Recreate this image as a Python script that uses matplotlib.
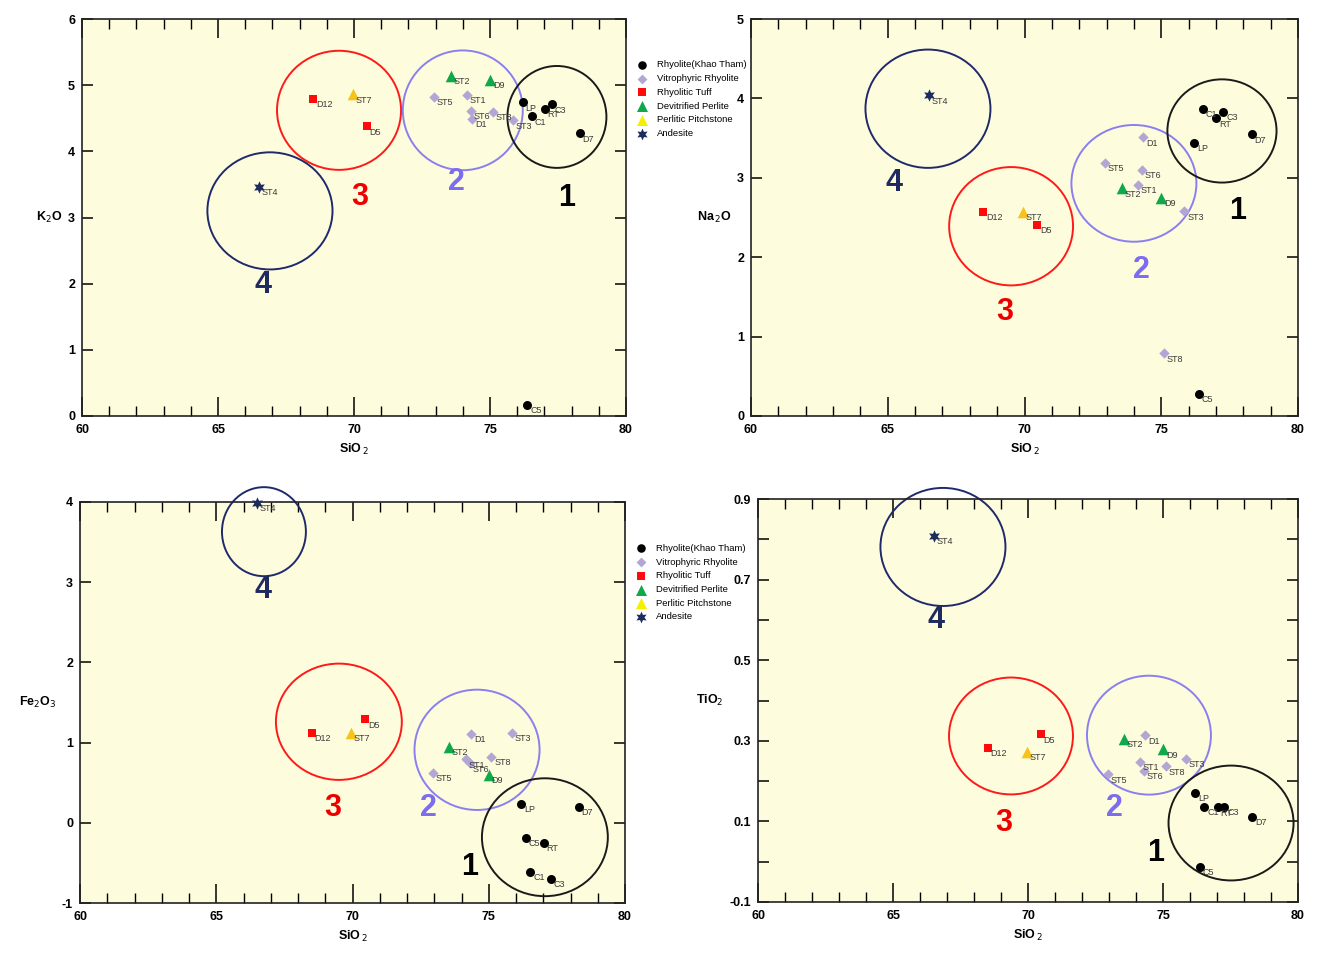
import matplotlib
matplotlib.use("Agg")
import matplotlib.pyplot as plt
from matplotlib.patches import Ellipse
from matplotlib.ticker import MultipleLocator, FixedLocator, FuncFormatter
import numpy as np

plt.rcParams['font.family'] = ['Liberation Sans', 'DejaVu Sans']
plt.rcParams['axes.unicode_minus'] = False

# ---------------- data ----------------
samples = ['LP', 'C5', 'C1', 'RT', 'C3', 'D7',
           'ST5', 'ST1', 'ST6', 'D1', 'ST8', 'ST3',
           'D12', 'D5',
           'ST2', 'D9',
           'ST7',
           'ST4']
groups = ['Rhyolite(Khao Tham)'] * 6 + ['Vitrophyric Rhyolite'] * 6 + \
         ['Rhyolitic Tuff'] * 2 + ['Devitrified Perlite'] * 2 + \
         ['Perlitic Pitchstone'] + ['Andesite']
sio2 = [76.2, 76.37, 76.53, 77.02, 77.27, 78.3,
        72.95, 74.15, 74.3, 74.35, 75.1, 75.85,
        68.5, 70.47,
        73.55, 75.0,
        69.95,
        66.5]
k2o = [4.74, 0.17, 4.53, 4.64, 4.71, 4.27,
       4.82, 4.85, 4.61, 4.49, 4.6, 4.47,
       4.79, 4.38,
       5.14, 5.08,
       4.86,
       3.46]
na2o = [3.44, 0.28, 3.87, 3.75, 3.83, 3.55,
        3.19, 2.91, 3.1, 3.51, 0.79, 2.58,
        2.57, 2.41,
        2.87, 2.75,
        2.57,
        4.04]
fe2o3 = [0.24, -0.19, -0.61, -0.25, -0.70, 0.20,
         0.62, 0.79, 0.74, 1.11, 0.82, 1.12,
         1.12, 1.29,
         0.95, 0.60,
         1.12,
         3.99]
tio2 = [0.171, -0.012, 0.136, 0.135, 0.136, 0.112,
        0.217, 0.248, 0.226, 0.314, 0.237, 0.255,
        0.283, 0.316,
        0.305, 0.279,
        0.273,
        0.808]

group_order = ['Rhyolite(Khao Tham)', 'Vitrophyric Rhyolite', 'Rhyolitic Tuff',
               'Devitrified Perlite', 'Perlitic Pitchstone', 'Andesite']
group_style = {
    'Rhyolite(Khao Tham)': dict(marker='o', color='#000000', s=42),
    'Vitrophyric Rhyolite': dict(marker='D', color='#b3a6d4', s=28),
    'Rhyolitic Tuff': dict(marker='s', color='#ff0a0a', s=40),
    'Devitrified Perlite': dict(marker='^', color='#0fa84a', s=70),
    'Perlitic Pitchstone': dict(marker='^', color='#f7c21a', s=70),
    'Andesite': dict(marker=(6, 1, 0), color='#1c2c5c', s=80),
}
legend_colors = {'Perlitic Pitchstone': '#f5f000'}

# circle groups: (label, x-center, y-center, width, height, text-x, text-y)
circle_colors = {'1': '#1a1a1a', '2': '#8b7ff0', '3': '#ff1a1a', '4': '#1f2a6c'}
text_colors = {'1': '#000000', '2': '#7c6cf0', '3': '#ee0000', '4': '#1f2a5e'}

circles_k2o = [('3', 69.45, 4.62, 4.56, 1.80, 70.22, 3.31),
               ('2', 74.0, 4.62, 4.41, 1.81, 73.75, 3.53),
               ('1', 77.46, 4.52, 3.64, 1.54, 77.8, 3.29),
               ('4', 66.91, 3.10, 4.60, 1.77, 66.65, 1.98)]
circles_na2o = [('4', 66.47, 3.87, 4.57, 1.49, 65.23, 2.93),
                ('3', 69.51, 2.39, 4.53, 1.49, 69.29, 1.31),
                ('2', 74.0, 2.93, 4.57, 1.47, 74.26, 1.84),
                ('1', 77.22, 3.59, 3.99, 1.30, 77.8, 2.58)]
circles_fe2o3 = [('4', 66.75, 3.63, 3.08, 1.11, 66.72, 2.90),
                 ('3', 69.5, 1.26, 4.62, 1.45, 69.28, 0.18),
                 ('2', 74.57, 0.91, 4.59, 1.50, 72.77, 0.18),
                 ('1', 77.06, -0.18, 4.62, 1.47, 74.31, -0.55)]
circles_tio2 = [('4', 66.85, 0.781, 4.63, 0.293, 66.59, 0.60),
                ('3', 69.37, 0.312, 4.59, 0.290, 69.11, 0.096),
                ('2', 74.48, 0.314, 4.59, 0.295, 73.19, 0.133),
                ('1', 77.52, 0.096, 4.63, 0.285, 74.74, 0.022)]

W, H = 1317, 956
fig = plt.figure(figsize=(W / 100, H / 100), dpi=100)
bg = '#fdfcdc'


def px_axes(l, r, t, b):
    return fig.add_axes([l / W, 1 - b / H, (r - l) / W, (b - t) / H])


def draw_panel(ax, yvals, ylabel, ylim, yticks, circles, legend=False, ylabels=None):
    ax.set_facecolor(bg)
    for g in group_order:
        idx = [i for i, gg in enumerate(groups) if gg == g]
        st = group_style[g]
        ax.scatter([sio2[i] for i in idx], [yvals[i] for i in idx],
                   marker=st['marker'], c=st['color'], s=st['s'],
                   linewidths=0, zorder=3, clip_on=False)
        # legend proxy
        ax.scatter([], [], marker=st['marker'], c=legend_colors.get(g, st['color']),
                   s=st['s'] * 0.9, linewidths=0, label=g)
    for i, name in enumerate(samples):
        ax.annotate(name, (sio2[i], yvals[i]), xytext=(2, -1), textcoords='offset points',
                    ha='left', va='top', fontsize=6.5, color='#3a3a3a', zorder=4)
    for lab, cx, cy, w, h, tx, ty in circles:
        ax.add_patch(Ellipse((cx, cy), w, h, fill=False, edgecolor=circle_colors[lab],
                             linewidth=1.4, zorder=2, clip_on=False))
        ax.text(tx, ty, lab, color=text_colors[lab], fontsize=22, fontweight='bold',
                ha='center', va='center', zorder=5)
    ax.set_xlim(60, 80)
    ax.set_ylim(*ylim)
    ax.xaxis.set_major_locator(MultipleLocator(5))
    ax.xaxis.set_minor_locator(MultipleLocator(1))
    ax.yaxis.set_major_locator(FixedLocator(yticks))
    if ylabels is not None:
        ax.yaxis.set_major_formatter(FuncFormatter(lambda v, p: ylabels.get(round(v, 2), '')))
    ax.tick_params(axis='x', which='major', direction='in', length=14, width=1.1,
                   top=True, bottom=True, labelsize=9, pad=6)
    ax.tick_params(axis='x', which='minor', direction='in', length=7, width=1.0,
                   top=True, bottom=True)
    ax.tick_params(axis='y', which='major', direction='in', length=8, width=1.1,
                   left=True, right=True, labelsize=9, pad=5)
    for lbl in ax.get_xticklabels() + ax.get_yticklabels():
        lbl.set_fontweight('bold')
    for sp in ax.spines.values():
        sp.set_linewidth(1.2)
        sp.set_color('#222222')
    ax.set_xlabel(r'SiO$_{\,2}$', fontsize=9, fontweight='bold', labelpad=4)
    ax.set_ylabel(ylabel, fontsize=9, fontweight='bold', rotation=0, ha='right',
                  va='center', labelpad=4)
    if legend:
        ax.legend(loc='upper left', bbox_to_anchor=(1.005, 0.905), frameon=False,
                  fontsize=6.8, handletextpad=0.6, labelspacing=0.5,
                  borderaxespad=0, scatterpoints=1)


ax1 = px_axes(82, 626, 19, 416)
draw_panel(ax1, k2o, r'K$_2$O', (0, 6), [0, 1, 2, 3, 4, 5, 6], circles_k2o, legend=True)
ax2 = px_axes(751, 1298, 19, 416)
draw_panel(ax2, na2o, r'Na$_{\,2}$O', (0, 5), [0, 1, 2, 3, 4, 5], circles_na2o)
ax3 = px_axes(80, 625, 502, 903)
draw_panel(ax3, fe2o3, r'Fe$_2$O$_3$', (-1, 4), [-1, 0, 1, 2, 3, 4], circles_fe2o3, legend=True)
tio_ticks = [-0.1, 0.0, 0.1, 0.2, 0.3, 0.4, 0.5, 0.6, 0.7, 0.8, 0.9]
tio_labels = {-0.1: '-0.1', 0.1: '0.1', 0.3: '0.3', 0.5: '0.5', 0.7: '0.7', 0.9: '0.9'}
ax4 = px_axes(758, 1298, 499, 902)
draw_panel(ax4, tio2, r'TiO$_2$', (-0.1, 0.9), tio_ticks, circles_tio2, ylabels=tio_labels)

fig.savefig('out.png', dpi=100, facecolor='white')
